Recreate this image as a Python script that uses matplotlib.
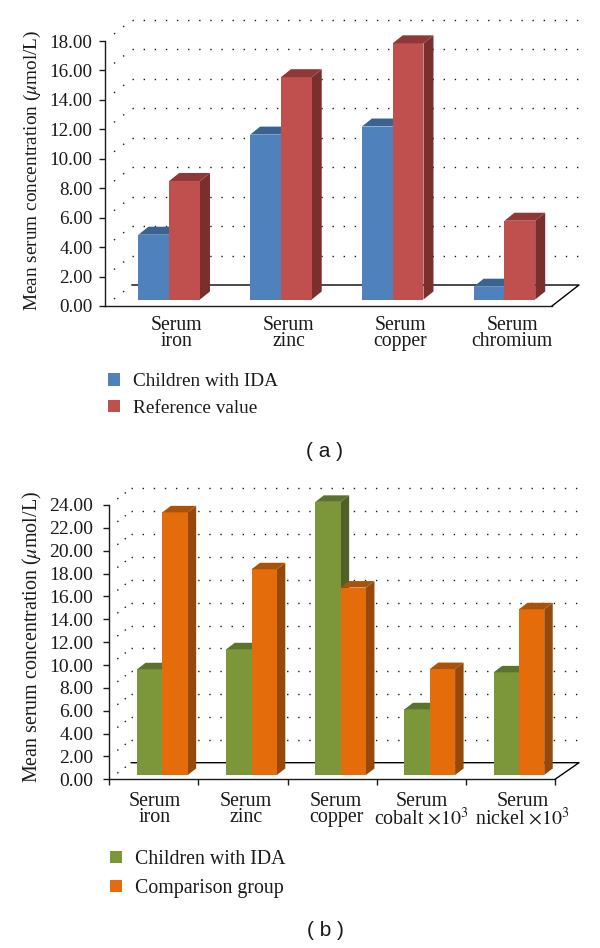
import matplotlib
matplotlib.use("Agg")
import matplotlib.pyplot as plt
import numpy as np
from matplotlib.transforms import ScaledTranslation

plt.rcParams['font.family'] = ['Liberation Serif', 'DejaVu Serif']
plt.rcParams['mathtext.fontset'] = 'stix'

W, H = 600, 948
INK = '#1a1a1a'

# panel a
cats_a = ['Serum\niron', 'Serum\nzinc', 'Serum\ncopper', 'Serum\nchromium']
ida_a = [4.4, 11.2, 11.75, 0.87]
ref_a = [8.05, 15.1, 17.4, 5.35]
yticks_a = [0, 2, 4, 6, 8, 10, 12, 14, 16, 18]

# panel b
cats_b = ['Serum\niron', 'Serum\nzinc', 'Serum\ncopper',
          'Serum\ncobalt $\\times 10^3$', 'Serum\nnickel $\\times 10^3$']
ida_b = [9.25, 11.0, 23.9, 5.75, 8.98]
comp_b = [22.98, 18.0, 16.4, 9.27, 14.5]
yticks_b = [0, 2, 4, 6, 8, 10, 12, 14, 16, 18, 20, 22, 24]

ylabel = 'Mean serum concentration ($\\mu$mol/L)'


def panel(box, cats, s1, s2, yticks, c1, c2, names, o):
    x0, x1, ytop, ybot = box
    ax = fig.add_axes([x0 / W, 1 - ybot / H, (x1 - x0) / W, (ybot - ytop) / H])
    n = len(cats)
    ax.set_xlim(0, n)
    ax.set_ylim(0, yticks[-1])
    ux = n / (x1 - x0)
    uy = yticks[-1] / (ybot - ytop)

    # back wall and floor
    wall_dx, wall_dy = o['wall'][0] * ux, o['wall'][1] * uy
    right = (o['right'] - x0) * ux
    start = o['wstart'] / o['wall'][0]
    for t in yticks:
        yb = t + wall_dy
        if t > 0:
            ax.plot([wall_dx, right], [yb, yb], color=INK, lw=1.0, ls=(0, (1, 7)),
                    clip_on=False, zorder=1)
        ax.plot([start * wall_dx, wall_dx], [t + start * wall_dy, yb], color=INK, lw=1.0,
                ls=(0, (1, o['wgap'])), clip_on=False, zorder=1)
    ax.plot([wall_dx, right, n], [wall_dy, wall_dy, 0], color='black', lw=1.0,
            clip_on=False, zorder=1)

    # bars with their top and side faces
    w = o['bar'] * ux
    base = o['base'] * uy
    dx, dy = o['depth'][0] * ux, o['depth'][1] * uy
    shift = o['shift'] * ux
    bars = []
    for k, (vals, cols, name) in enumerate(zip((s1, s2), (c1, c2), names)):
        lefts = np.arange(n) + 0.5 + shift + (k - 1) * w
        tops = base + np.array(vals)
        b = ax.bar(lefts, vals, w, bottom=base, align='edge', color=cols[0], label=name,
                   zorder=3 + 2 * k, clip_on=False)
        bars.append(b)
        for l, t in zip(lefts, tops):
            ax.fill([l, l + w, l + w + dx, l + dx], [t, t, t + dy, t + dy],
                    color=cols[1], lw=0, zorder=3 + 2 * k, clip_on=False)
            ax.fill([l + w, l + w + dx, l + w + dx, l + w], [base, base + dy, t + dy, t],
                    color=cols[2], lw=0, zorder=2 + 2 * k, clip_on=False)

    for s in ['top', 'right']:
        ax.spines[s].set_visible(False)
    for s in ['left', 'bottom']:
        ax.spines[s].set_linewidth(1.0)
        ax.spines[s].set_color(INK)
        ax.spines[s].set_zorder(2)

    ax.set_yticks(yticks, ['%.2f' % t for t in yticks])
    ax.tick_params(axis='y', length=4.5, width=1.0, color=INK, pad=o['ypad'],
                   labelsize=o['fs'], labelcolor=INK)
    ax.set_xticks(range(n + 1), [])
    ax.tick_params(axis='x', which='major', length=o['xtick'], width=1.0, color=INK)
    ax.set_xticks(np.arange(n) + 0.5, cats, minor=True)
    ax.tick_params(axis='x', which='minor', length=0, pad=o['xpad'], labelsize=o['xfs'],
                   labelcolor=INK)
    for lab, off in zip(ax.get_xticklabels(minor=True), o['lab_off']):
        lab.set_linespacing(0.8)
        lab.set_transform(lab.get_transform() + ScaledTranslation(off / 100, 0, fig.dpi_scale_trans))

    fig.text(32.5 / W, 1 - o['yl'] / H, ylabel, rotation=90, ha='center', va='center',
             fontsize=o['ylfs'], color=INK)
    fig.legend(handles=bars, loc='upper left', bbox_to_anchor=(o['leg'][0] / W, 1 - o['leg'][1] / H),
               frameon=False, fontsize=o['lfs'], handlelength=0.62, handleheight=0.62,
               handletextpad=0.65, labelspacing=o['legsp'], borderpad=0, borderaxespad=0,
               labelcolor=INK)
    fig.text(325 / W, 1 - o['cap'][1] / H, o['cap'][0], ha='center', va='center', fontsize=15,
             family='Liberation Sans', color=INK)
    return ax


fig = plt.figure(figsize=(W / 100, H / 100), dpi=100)

panel((105, 552, 41, 306), cats_a, ida_a, ref_a, yticks_a,
      ('#4F81BD', '#3B6390', '#3B6390'), ('#C0504D', '#8E3937', '#7B2F2D'),
      ('Children with IDA', 'Reference value'),
      dict(wall=(27, 21), right=579, bar=30.8, base=6.5, depth=(10, 8), shift=8.3, wstart=9, wgap=7.3,
           xtick=0, xpad=7, lab_off=[16, 16, 16, 16], fs=13.7, xfs=14.2, lfs=13.9, ypad=4.5,
           ylfs=13.85, yl=170, leg=(108, 373), legsp=0.5, cap=('( a )', 452)))

panel((109.3, 555, 505, 779.3), cats_b, ida_b, comp_b, yticks_b,
      ('#7C963A', '#5C732D', '#4F6128'), ('#E46C0A', '#A9520A', '#96490A'),
      ('Children with IDA', 'Comparison group'),
      dict(wall=(22, 16.6), right=579, bar=25.3, base=4.3, depth=(8.5, 6.5), shift=8.5, wstart=8, wgap=5.7,
           xtick=4, xpad=9, lab_off=[1, 3, 4, 0.7, 12], fs=14, xfs=14.4, lfs=14.3, ypad=7,
           ylfs=14.4, yl=637, leg=(110, 850), legsp=0.5, cap=('( b )', 931)))

fig.savefig('out.png', dpi=100)
